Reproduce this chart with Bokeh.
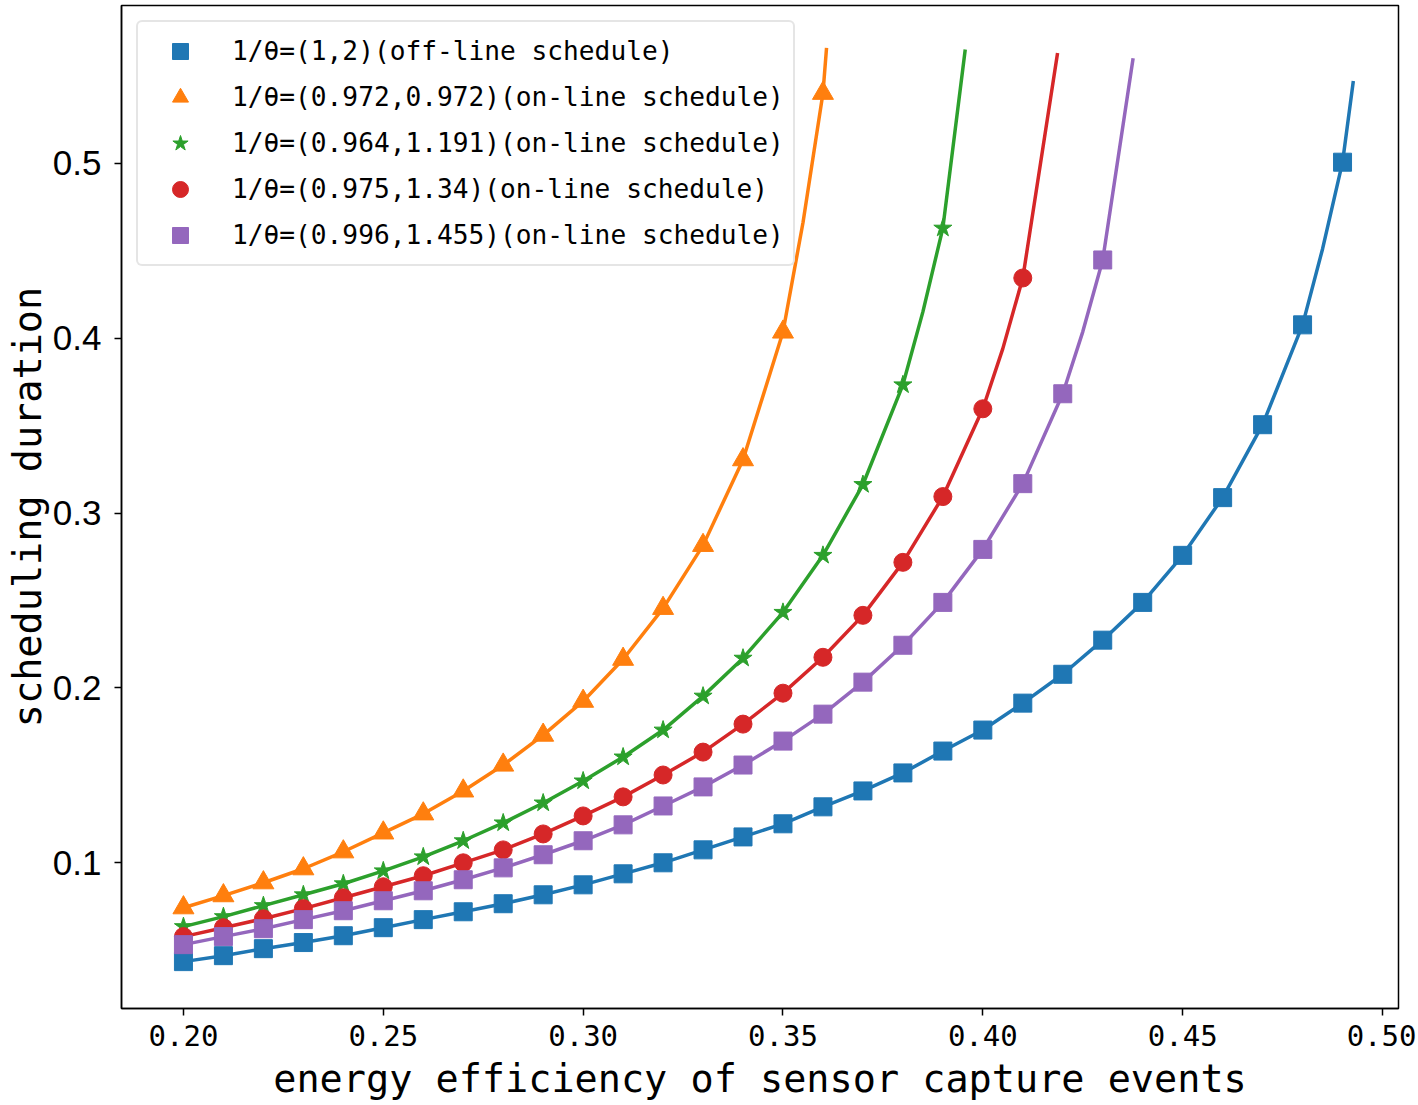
from bokeh.plotting import figure
from bokeh.models import Range1d, Legend, LegendItem, FixedTicker, NumeralTickFormatter
from bokeh.embed import file_html
from bokeh.resources import INLINE

# ---- data ----
x_blue = [0.20, 0.21, 0.22, 0.23, 0.24, 0.25, 0.26, 0.27, 0.28, 0.29, 0.30, 0.31, 0.32, 0.33, 0.34,
          0.35, 0.36, 0.37, 0.38, 0.39, 0.40, 0.41, 0.42, 0.43, 0.44, 0.45, 0.46, 0.47, 0.48, 0.49]
y_blue = [0.0435, 0.0469, 0.0509, 0.0544, 0.0583, 0.0629, 0.0675, 0.0720, 0.0766, 0.0817, 0.0874,
          0.0937, 0.1000, 0.1074, 0.1148, 0.1223, 0.1320, 0.1411, 0.1514, 0.1639, 0.1759, 0.1913,
          0.2078, 0.2273, 0.2489, 0.2758, 0.3088, 0.3505, 0.4076, 0.5006]
x_blue_extra = [0.485, 0.4927]
y_blue_extra = [0.451, 0.547]

x_orange = [0.20, 0.21, 0.22, 0.23, 0.24, 0.25, 0.26, 0.27, 0.28, 0.29, 0.30, 0.31, 0.32, 0.33, 0.34,
            0.35, 0.36]
y_orange = [0.0743, 0.0812, 0.0886, 0.0966, 0.1063, 0.1171, 0.1280, 0.1411, 0.1559, 0.1730, 0.1924,
            0.2164, 0.2455, 0.2815, 0.3305, 0.4035, 0.5400]
x_orange_extra = [0.355, 0.3609]
y_orange_extra = [0.466, 0.566]

x_green = [0.20, 0.21, 0.22, 0.23, 0.24, 0.25, 0.26, 0.27, 0.28, 0.29, 0.30, 0.31, 0.32, 0.33, 0.34,
           0.35, 0.36, 0.37, 0.38, 0.39]
y_green = [0.0635, 0.0692, 0.0755, 0.0817, 0.0880, 0.0954, 0.1034, 0.1126, 0.1228, 0.1342, 0.1468,
           0.1605, 0.1759, 0.1953, 0.2170, 0.2432, 0.2758, 0.3163, 0.3733, 0.4629]
x_green_extra = [0.385, 0.3956]
y_green_extra = [0.415, 0.565]

x_red = [0.20, 0.21, 0.22, 0.23, 0.24, 0.25, 0.26, 0.27, 0.28, 0.29, 0.30, 0.31, 0.32, 0.33, 0.34,
         0.35, 0.36, 0.37, 0.38, 0.39, 0.40, 0.41]
y_red = [0.0578, 0.0629, 0.0680, 0.0738, 0.0800, 0.0863, 0.0926, 0.1000, 0.1074, 0.1165, 0.1268,
         0.1377, 0.1502, 0.1633, 0.1793, 0.1970, 0.2175, 0.2415, 0.2718, 0.3094, 0.3596, 0.4344]
x_red_extra = [0.405, 0.4187]
y_red_extra = [0.394, 0.563]

x_purple = [0.20, 0.21, 0.22, 0.23, 0.24, 0.25, 0.26, 0.27, 0.28, 0.29, 0.30, 0.31, 0.32, 0.33, 0.34,
            0.35, 0.36, 0.37, 0.38, 0.39, 0.40, 0.41, 0.42, 0.43]
y_purple = [0.0532, 0.0578, 0.0623, 0.0675, 0.0726, 0.0783, 0.0840, 0.0903, 0.0971, 0.1046, 0.1126,
            0.1217, 0.1325, 0.1434, 0.1559, 0.1696, 0.1850, 0.2033, 0.2244, 0.2489, 0.2792, 0.3168,
            0.3682, 0.4447]
x_purple_extra = [0.425, 0.4376]
y_purple_extra = [0.4036, 0.560]

labels = ["1/θ=(1,2)(off-line schedule)",
          "1/θ=(0.972,0.972)(on-line schedule)",
          "1/θ=(0.964,1.191)(on-line schedule)",
          "1/θ=(0.975,1.34)(on-line schedule)",
          "1/θ=(0.996,1.455)(on-line schedule)"]

x_ticks = [0.20, 0.25, 0.30, 0.35, 0.40, 0.45, 0.50]
y_ticks = [0.1, 0.2, 0.3, 0.4, 0.5]

x_title = "energy efficiency of sensor capture events"
y_title = "scheduling duration"

# ---- figure ----
p = figure(width=1416, height=1103, output_backend="svg", toolbar_location=None,
           x_range=Range1d(0.1845, 0.5040), y_range=Range1d(0.01669, 0.5902),
           min_border_left=121, min_border_right=18, min_border_top=5, min_border_bottom=93)

p.xgrid.visible = False
p.ygrid.visible = False
p.outline_line_color = "black"
p.outline_line_width = 1.5
p.outline_line_alpha = 1.0
p.background_fill_color = "white"
p.border_fill_color = "white"

mono = "DejaVu Sans Mono"

for ax in (p.xaxis[0], p.yaxis[0]):
    ax.axis_line_color = "black"
    ax.axis_line_width = 1.5
    ax.major_tick_line_color = "black"
    ax.major_tick_line_width = 1.5
    ax.major_tick_out = 7
    ax.major_tick_in = 0
    ax.minor_tick_line_color = None
    ax.major_label_text_color = "black"
    ax.axis_label_text_color = "black"
    ax.axis_label_text_font = mono
    ax.axis_label_text_font_style = "normal"
    ax.axis_label_text_font_size = "38.5px"
    ax.axis_label_text_line_height = 1.0
    ax.major_label_text_line_height = 1.0

p.xaxis.ticker = FixedTicker(ticks=x_ticks)
p.xaxis.formatter = NumeralTickFormatter(format="0.00")
p.xaxis.major_label_text_font = mono
p.xaxis.major_label_text_font_size = "29px"
p.xaxis.major_label_standoff = 9
p.xaxis.axis_label = x_title
p.xaxis.axis_label_standoff = 7

p.yaxis.ticker = FixedTicker(ticks=y_ticks)
p.yaxis.formatter = NumeralTickFormatter(format="0.0")
p.yaxis.major_label_text_font = "Liberation Sans"
p.yaxis.major_label_text_font_size = "35px"
p.yaxis.major_label_standoff = 13
p.yaxis.axis_label = y_title
p.yaxis.axis_label_standoff = 0

series = [
    (x_blue, y_blue, x_blue_extra, y_blue_extra, "#1f77b4", "square", 18),
    (x_orange, y_orange, x_orange_extra, y_orange_extra, "#ff7f0e", "triangle", 21),
    (x_green, y_green, x_green_extra, y_green_extra, "#2ca02c", "star", 19),
    (x_red, y_red, x_red_extra, y_red_extra, "#d62728", "circle", 18),
    (x_purple, y_purple, x_purple_extra, y_purple_extra, "#9467bd", "square", 18),
]

items = []
for (xs, ys, xe, ye, col, mk, sz), lab in zip(series, labels):
    pts = sorted(zip(list(xs) + list(xe), list(ys) + list(ye)))
    lx = [a for a, b in pts]
    ly = [b for a, b in pts]
    p.line(lx, ly, line_color=col, line_width=3.5, line_join="round")
    r = p.scatter(xs, ys, marker=mk, size=sz, fill_color=col, line_color=col)
    items.append(LegendItem(label=lab, renderers=[r]))

legend = Legend(items=items, location="top_left")
legend.margin = 15
legend.padding = 9
legend.spacing = 6
legend.glyph_height = 40
legend.glyph_width = 66
legend.label_standoff = 19
legend.label_text_font = mono
legend.label_text_font_size = "26.2px"
legend.label_text_color = "black"
legend.border_line_color = "#cccccc"
legend.border_line_width = 2
legend.background_fill_color = "white"
legend.background_fill_alpha = 0.85
try:
    legend.border_radius = 6
except Exception:
    pass
p.add_layout(legend)

open("out.html", "w").write(file_html(p, INLINE))
